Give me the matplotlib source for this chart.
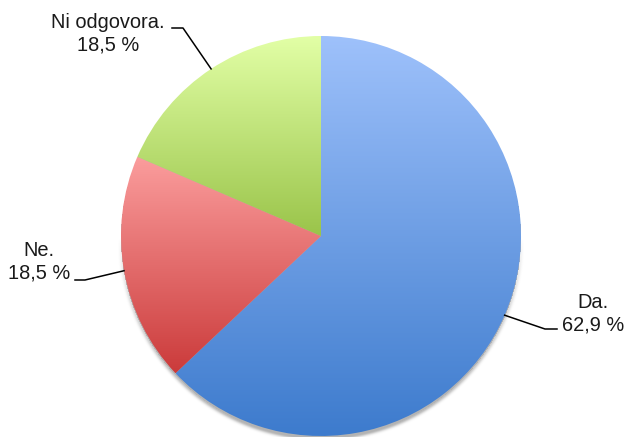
import matplotlib.pyplot as plt
import numpy as np
from matplotlib.colors import LinearSegmentedColormap

plt.rcParams['font.family'] = ['Liberation Sans', 'DejaVu Sans']

# survey answers
labels = ['Da.', 'Ne.', 'Ni odgovora.']
shares = [62.9, 18.5, 18.5]
top_colors = ['#9ec1fb', '#fb9d9d', '#e2ffa6']
bottom_colors = ['#3d7bcd', '#cb3b3b', '#9ac44a']

W, H = 627, 437
center = (321, 201)
radius = 200

# where each label sits and how its leader line bends (x, y in pixels, y up)
label_xy = [(593, 123), (39, 175), (108, 403)]
elbow_xy = [(545, 108), (85, 157), (183, 409)]
end_xy = [(557, 108), (75, 157), (172, 409)]

fig = plt.figure(figsize=(W / 100, H / 100), dpi=100)
ax = fig.add_axes([0, 0, 1, 1])

# soft shadow, only along the lower half of the disc
yy, xx = np.mgrid[0:H, 0:W] + 0.5
dx, dy = xx - center[0], yy - (center[1] - 2)
dist = np.hypot(dx, dy)
lower = np.clip(-dy / np.maximum(dist, 1), 0, 1) ** 0.7
alpha = np.where(dist <= radius, 0.3,
                 0.3 * lower * np.exp(-((dist - radius) / 2.5) ** 2))
shadow = np.zeros((H, W, 4))
shadow[..., 3] = alpha
ax.imshow(shadow, extent=[0, W, 0, H], origin='lower', zorder=0)

wedges, _ = ax.pie(shares, startangle=90, counterclock=False, center=center,
                   radius=radius, wedgeprops=dict(linewidth=0))

# vertical gradient inside each slice
for w, c_top, c_bot in zip(wedges, top_colors, bottom_colors):
    ext = w.get_path().get_extents()
    cmap = LinearSegmentedColormap.from_list('g', [c_bot, c_top])
    grad = np.linspace(0, 1, 256).reshape(-1, 1)
    im = ax.imshow(grad, cmap=cmap, extent=[ext.x0, ext.x1, ext.y0, ext.y1],
                   origin='lower', aspect='auto', interpolation='bicubic', zorder=2)
    im.set_clip_path(w)
    w.set_facecolor('none')

# labels with leader lines from the middle of each slice edge
for w, lab, val, txy, exy, nxy in zip(wedges, labels, shares, label_xy, elbow_xy, end_xy):
    mid = np.deg2rad((w.theta1 + w.theta2) / 2)
    px = center[0] + radius * np.cos(mid)
    py = center[1] + radius * np.sin(mid)
    ax.plot([px, exy[0], nxy[0]], [py, exy[1], nxy[1]], color='black', lw=1.1, zorder=3)
    pct = f'{val:.1f}'.replace('.', ',')
    ax.text(txy[0], txy[1], f'{lab}\n{pct} %', ha='center', va='center',
            fontsize=14.4, color='#1a1a1a', linespacing=1.2, zorder=3)

ax.set_xlim(0, W)
ax.set_ylim(0, H)
ax.set_aspect('auto')
ax.axis('off')

fig.savefig('out.png', dpi=100)
